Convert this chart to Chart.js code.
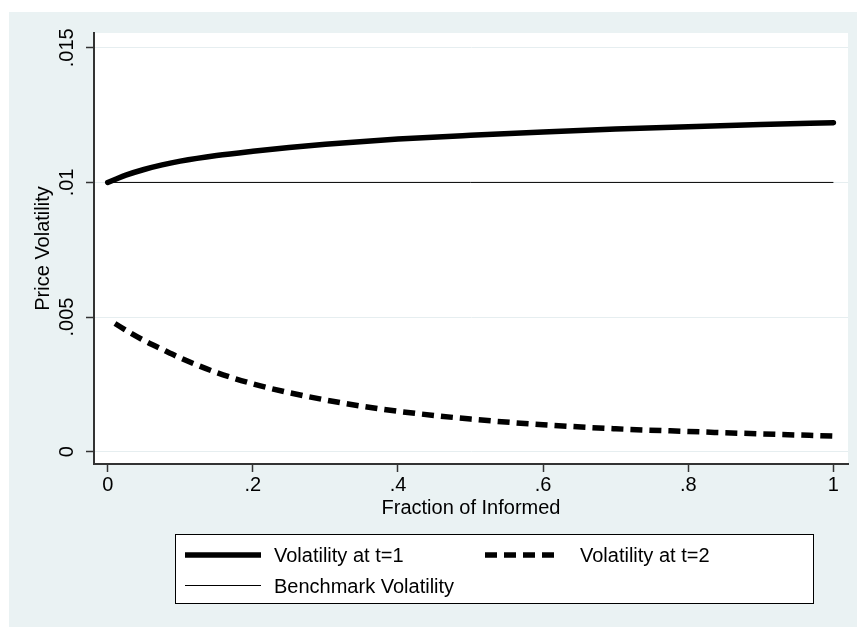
<!DOCTYPE html>
<html>
<head>
<meta charset="utf-8">
<script src="https://cdn.jsdelivr.net/npm/chart.js@4/dist/chart.umd.min.js"></script>
<style>
  html, body { margin: 0; padding: 0; background: #ffffff; }
  #wrap { width: 857px; height: 627px; }
</style>
</head>
<body>
<div id="wrap"><canvas id="c" width="857" height="627"></canvas></div>
<script>
// ---- data ----
const t1X = [0, 0.01, 0.025, 0.05, 0.075, 0.1, 0.15, 0.2, 0.25, 0.3, 0.4, 0.5, 0.6, 0.7, 0.8, 0.9, 1.0];
const t1Y = [0.01000, 0.01011, 0.01027, 0.01048, 0.01065, 0.01079, 0.01100, 0.01116, 0.01130, 0.01142, 0.01161, 0.01175, 0.01187, 0.01198, 0.01207, 0.01215, 0.01222];

const t2X = [0.01, 0.03, 0.05, 0.075, 0.1, 0.15, 0.2, 0.25, 0.3, 0.35, 0.4, 0.5, 0.6, 0.7, 0.8, 0.9, 1.0];
const t2Y = [0.00476, 0.00443, 0.00413, 0.00380, 0.00348, 0.00294, 0.00252, 0.00219, 0.00192, 0.00169, 0.00150, 0.00121, 0.00100, 0.00085, 0.00075, 0.00066, 0.00058];

const benchX = [0, 1];
const benchY = [0.01, 0.01];

const seriesLabels = ["Volatility at t=1", "Volatility at t=2", "Benchmark Volatility"];

const xTickValues = [0, 0.2, 0.4, 0.6, 0.8, 1];
const xTickLabels = ["0", ".2", ".4", ".6", ".8", "1"];
const yTickValues = [0, 0.005, 0.01, 0.015];
const yTickLabels = ["0", ".005", ".01", ".015"];

const xTitle = "Fraction of Informed";
const yTitle = "Price Volatility";

// ---- build ----
const pts = (xs, ys) => xs.map((x, i) => ({ x: x, y: ys[i] }));
const FONT = "'Liberation Sans', Arial, Helvetica, sans-serif";
const BG = '#EAF2F3';

const bgPlugin = {
  id: 'bg',
  beforeDraw(chart) {
    const { ctx, chartArea: a } = chart;
    ctx.save();
    ctx.fillStyle = '#ffffff';
    ctx.fillRect(0, 0, chart.width, chart.height);
    ctx.fillStyle = BG;
    ctx.fillRect(9, 12, chart.width - 9, chart.height - 12);
    ctx.fillStyle = '#ffffff';
    ctx.fillRect(a.left, a.top, a.right - a.left, a.bottom - a.top);
    ctx.restore();
  }
};

const legendPlugin = {
  id: 'boxLegend',
  afterDraw(chart) {
    const ctx = chart.ctx;
    const ds = chart.data.datasets;
    const box = { x: 175.5, y: 534.5, w: 638, h: 69 };
    ctx.save();
    ctx.fillStyle = '#ffffff';
    ctx.fillRect(box.x, box.y, box.w, box.h);
    ctx.strokeStyle = '#000000';
    ctx.lineWidth = 1;
    ctx.strokeRect(box.x, box.y, box.w, box.h);
    const slots = [
      { lx: 185, tx: 274, y: 555 },
      { lx: 485, tx: 580, y: 555 },
      { lx: 185, tx: 274, y: 585.5 }
    ];
    ds.forEach((d, i) => {
      const s = slots[i];
      ctx.beginPath();
      ctx.strokeStyle = d.borderColor;
      ctx.lineWidth = d.borderWidth;
      ctx.lineCap = 'butt';
      ctx.setLineDash(d.borderDash || []);
      ctx.moveTo(s.lx, s.y);
      ctx.lineTo(s.lx + 76, s.y);
      ctx.stroke();
      ctx.setLineDash([]);
      ctx.fillStyle = '#000000';
      ctx.font = '20px ' + FONT;
      ctx.textBaseline = 'middle';
      ctx.textAlign = 'left';
      ctx.fillText(d.label, s.tx, Math.round(s.y) + 1);
    });
    ctx.restore();
  }
};

new Chart(document.getElementById('c'), {
  type: 'line',
  data: {
    datasets: [
      {
        label: seriesLabels[0],
        data: pts(t1X, t1Y),
        borderColor: '#000000',
        borderWidth: 5.5,
        borderCapStyle: 'round',
        pointRadius: 0,
        cubicInterpolationMode: 'monotone',
        fill: false
      },
      {
        label: seriesLabels[1],
        data: pts(t2X, t2Y),
        borderColor: '#000000',
        borderWidth: 5.5,
        borderDash: [12, 7],
        borderCapStyle: 'butt',
        pointRadius: 0,
        cubicInterpolationMode: 'monotone',
        fill: false
      },
      {
        label: seriesLabels[2],
        data: pts(benchX, benchY),
        borderColor: '#000000',
        borderWidth: 1,
        pointRadius: 0,
        fill: false
      }
    ]
  },
  options: {
    responsive: false,
    animation: false,
    devicePixelRatio: 1,
    layout: { padding: { left: 0, top: 33, right: 9, bottom: 103 } },
    plugins: {
      legend: { display: false },
      tooltip: { enabled: false }
    },
    scales: {
      x: {
        type: 'linear',
        min: -0.0189,
        max: 1.0201,
        afterBuildTicks: (s) => { s.ticks = xTickValues.map(v => ({ value: v })); },
        afterFit: (s) => { s.height = 60; },
        ticks: {
          color: '#000000',
          font: { family: FONT, size: 20 },
          padding: 1,
          maxRotation: 0,
          autoSkip: false,
          callback: (v) => { const i = xTickValues.indexOf(v); return i >= 0 ? xTickLabels[i] : ''; }
        },
        grid: {
          drawOnChartArea: false,
          drawTicks: true,
          tickLength: 8,
          tickColor: '#333333',
          tickWidth: 1.5
        },
        border: { display: true, color: '#333333', width: 2 },
        title: {
          display: true,
          text: xTitle,
          color: '#000000',
          font: { family: FONT, size: 20 },
          padding: { top: 0, bottom: 4 }
        }
      },
      y: {
        type: 'linear',
        min: -0.000458,
        max: 0.01555,
        afterBuildTicks: (s) => { s.ticks = yTickValues.map(v => ({ value: v })); },
        afterFit: (s) => { s.width = 94; },
        ticks: {
          color: '#000000',
          font: { family: FONT, size: 20 },
          padding: -1,
          minRotation: 90,
          maxRotation: 90,
          crossAlign: 'center',
          autoSkip: false,
          callback: (v) => { const i = yTickValues.indexOf(v); return i >= 0 ? yTickLabels[i] : ''; }
        },
        grid: {
          drawOnChartArea: true,
          color: '#E6EEF0',
          lineWidth: 1,
          drawTicks: true,
          tickLength: 8,
          tickColor: '#333333',
          tickWidth: 1.5
        },
        border: { display: true, color: '#333333', width: 2 },
        title: {
          display: true,
          text: yTitle,
          color: '#000000',
          font: { family: FONT, size: 20 },
          padding: { top: 31, bottom: 0 }
        }
      }
    }
  },
  plugins: [bgPlugin, legendPlugin]
});
</script>
</body>
</html>
